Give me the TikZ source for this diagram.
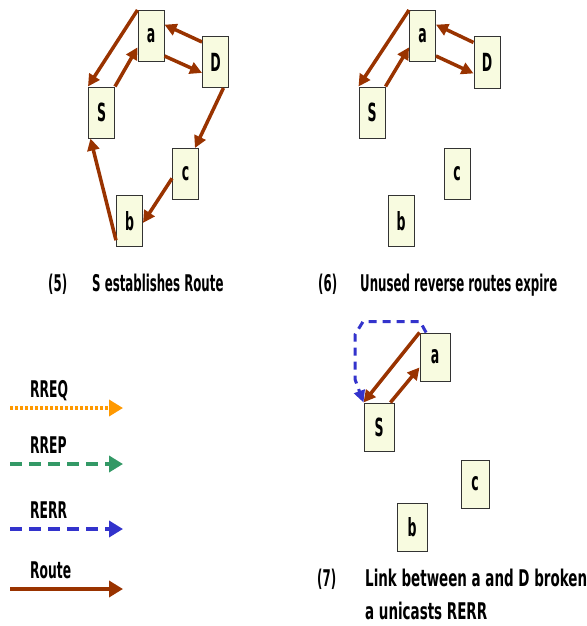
\documentclass[tikz,border=0pt]{standalone}
\usepackage{fontspec}
\newfontfamily\labfont{DejaVu Sans}[FakeStretch=0.535]
\newfontfamily\capfont{DejaVu Sans}[FakeStretch=0.512]
\newfontfamily\capfontw{DejaVu Sans}[FakeStretch=0.585]
\newfontfamily\boxfont{DejaVu Sans}[FakeStretch=0.5]
\usetikzlibrary{arrows.meta}
\definecolor{routec}{RGB}{153,51,0}
\definecolor{boxfill}{RGB}{248,251,224}
\definecolor{rerrc}{RGB}{51,51,204}
\definecolor{rrepc}{RGB}{51,153,102}
\definecolor{rreqc}{RGB}{255,153,0}
\tikzset{
  nodebox/.style={draw=black!80, line width=1pt, fill=boxfill, minimum width=26pt, minimum height=51pt, inner sep=0pt, font=\boxfont\bfseries\fontsize{25}{29}\selectfont},
  nodeboxw/.style={nodebox, minimum width=30pt, minimum height=48pt},
  routearr/.style={draw=routec, line width=3.5pt, -{Triangle[length=12pt,width=12pt]}},
  rerrpath/.style={draw=rerrc, line width=3pt, dash pattern=on 8pt off 6pt, -{Triangle[length=12pt,width=11pt]}},
  captext/.style={anchor=base west, inner sep=0pt, font=\capfont\bfseries\fontsize{23}{27}\selectfont},
  captextw/.style={anchor=base west, inner sep=0pt, font=\capfontw\bfseries\fontsize{23}{27}\selectfont},
  leglabel/.style={anchor=base west, inner sep=0pt, font=\labfont\bfseries\fontsize{23}{27}\selectfont},
  legreq/.style={draw=rreqc, line width=4pt, dash pattern=on 3pt off 2pt, -{Triangle[length=14pt,width=16pt,fill=rreqc]}},
  legrep/.style={draw=rrepc, line width=4pt, dash pattern=on 12pt off 7pt, -{Triangle[length=14pt,width=16pt,fill=rrepc]}},
  legerr/.style={draw=rerrc, line width=4pt, dash pattern=on 12pt off 7pt, -{Triangle[length=14pt,width=16pt,fill=rerrc]}},
  legroute/.style={draw=routec, line width=4pt, -{Triangle[length=14pt,width=16pt]}},
}
\begin{document}
\begin{tikzpicture}[x=1pt,y=-1pt]
\useasboundingbox[fill=white] (0,0) rectangle (586,626);
% panel 5
\node[nodebox] (a5) at (151,36) {a};
\node[nodebox] (D5) at (215.5,62) {D};
\node[nodebox] (S5) at (101.5,112.5) {S};
\node[nodebox] (c5) at (185.5,174) {c};
\node[nodebox] (b5) at (129.5,221) {b};
\draw[routearr] (a5.north west) -- (S5.north west);
\draw[routearr] (S5.north east) -- (a5.220);
\draw[routearr] (D5.124) -- (a5.40);
\draw[routearr] (a5.-56) -- (D5.219);
\draw[routearr] (D5.-73) -- (c5.70);
\draw[routearr] (c5.198) -- (b5.-8);
\draw[routearr] (b5.235) -- (S5.247);
\node[captext] (n5) at (48,291) {(5)};
\node[captext] (t5) at (92,291) {S establishes Route};
% panel 6
\node[nodebox] (a6) at (422.5,36) {a};
\node[nodebox] (D6) at (487,62.5) {D};
\node[nodebox] (S6) at (372,112.5) {S};
\node[nodebox] (c6) at (457,174) {c};
\node[nodebox] (b6) at (401,221) {b};
\draw[routearr] (a6.north west) -- (S6.north west);
\draw[routearr] (S6.north east) -- (a6.220);
\draw[routearr] (D6.124) -- (a6.40);
\draw[routearr] (a6.-56) -- (D6.219);
\node[captext] (n6) at (318,291) {(6)};
\node[captext] (t6) at (360,291) {Unused reverse routes expire};
% panel 7
\node[nodeboxw] (a7) at (435,357) {a};
\node[nodeboxw] (S7) at (379,427) {S};
\node[nodeboxw, minimum width=28pt] (c7) at (475,484) {c};
\node[nodeboxw] (b7) at (412,527.5) {b};
\draw[routearr] (a7.north west) -- (S7.north west);
\draw[routearr] (S7.65) -- (a7.214);
\draw[rerrpath] (a7.110) -- ++(-6,-11) -- ++(-57,0) -- ++(-8,13) -- ++(0,45) -- (S7.north west);
\node[captext] (n7) at (317,586) {(7)};
\node[captextw] (t7a) at (365,586) {Link between a and D broken};
\node[captextw] (t7b) at (365,619) {a unicasts RERR};
% legend
\node[leglabel] (lreq) at (30,397) {RREQ};
\coordinate (req0) at (10,408);
\coordinate (req1) at (123,408);
\draw[legreq] (req0) -- (req1);
\node[leglabel] (lrep) at (30,453) {RREP};
\coordinate (rep0) at (10,464);
\coordinate (rep1) at (123,464);
\draw[legrep] (rep0) -- (rep1);
\node[leglabel] (lerr) at (30,518) {RERR};
\coordinate (err0) at (10,529);
\coordinate (err1) at (123,529);
\draw[legerr] (err0) -- (err1);
\node[leglabel] (lroute) at (30,578) {Route};
\coordinate (rt0) at (10,589);
\coordinate (rt1) at (123,589);
\draw[legroute] (rt0) -- (rt1);
\end{tikzpicture}
\end{document}
